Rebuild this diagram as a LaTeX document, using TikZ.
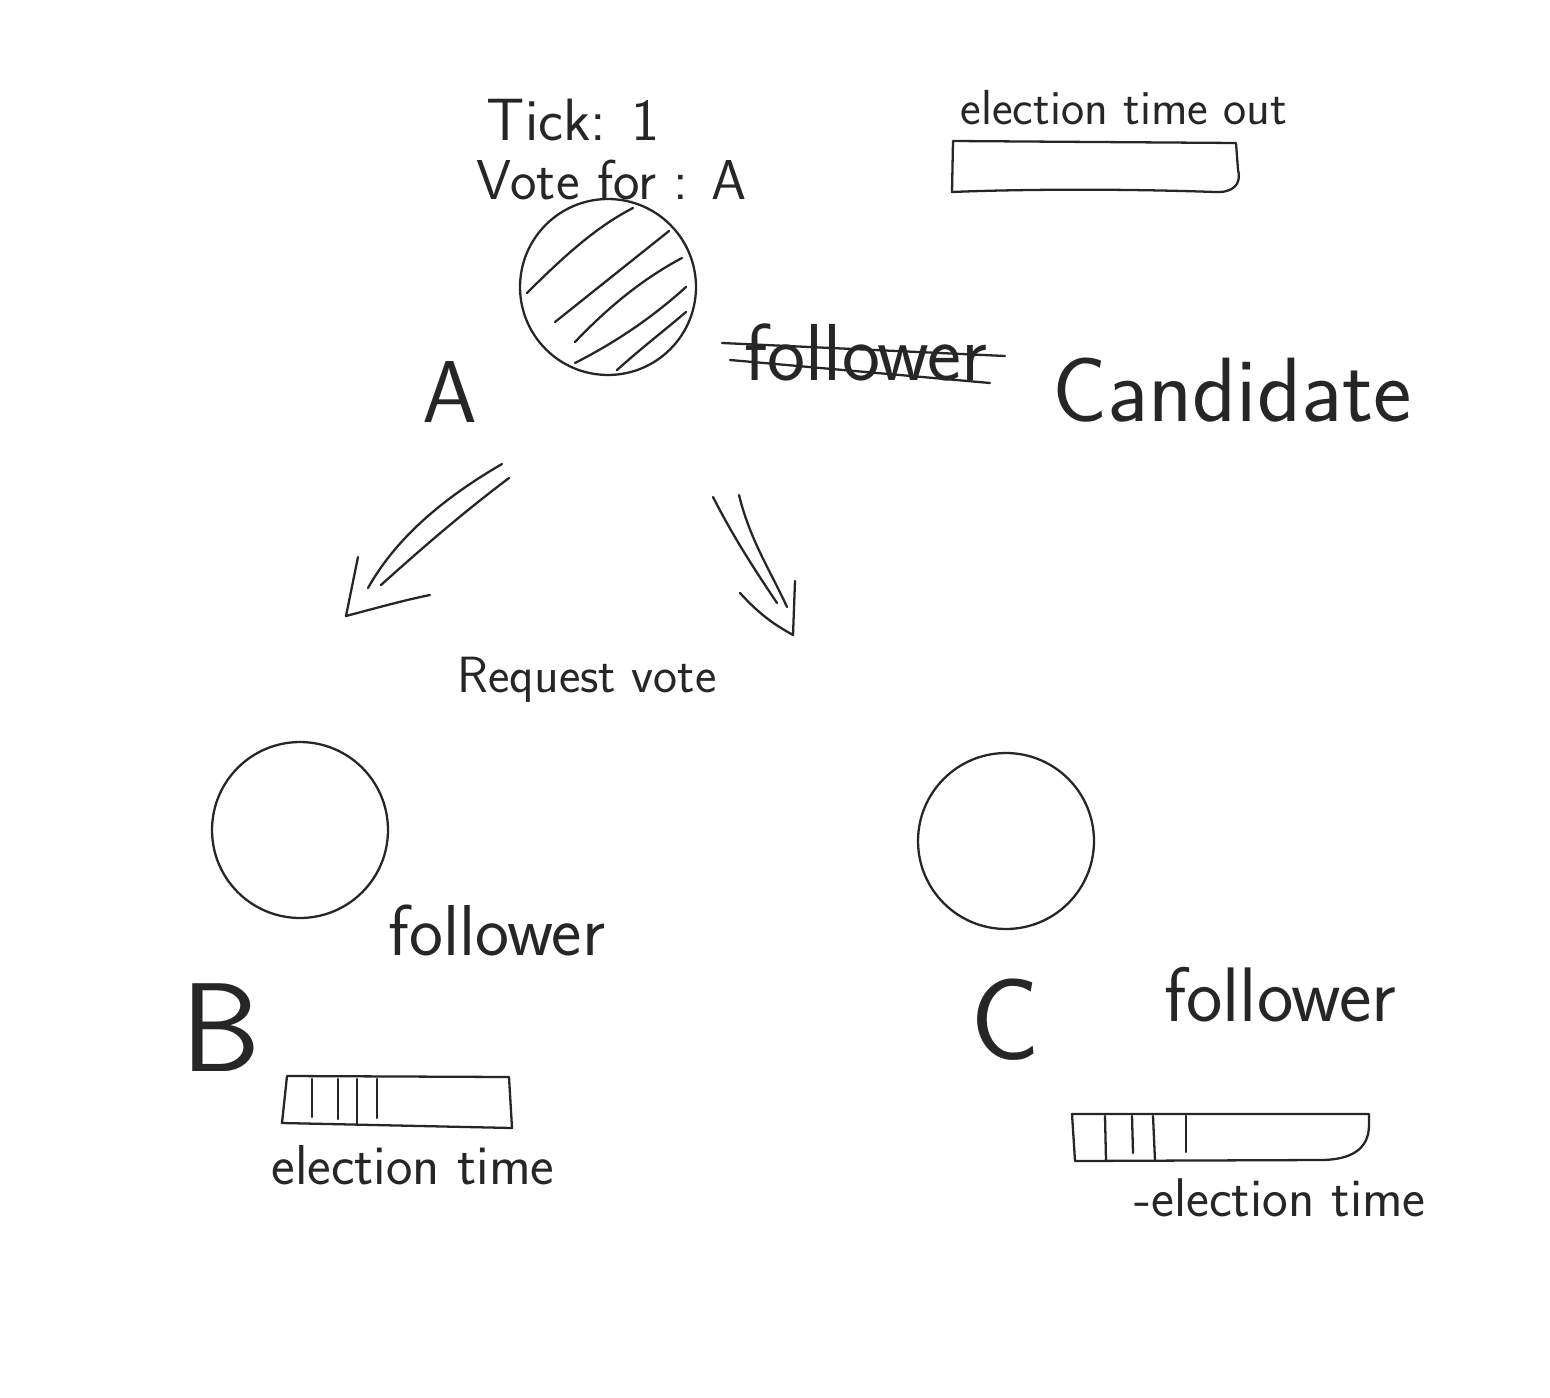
\documentclass[tikz,border=0pt]{standalone}
\usepackage{fontspec}
\begin{document}
\begin{tikzpicture}[x=0.02cm,y=-0.02cm,
  ink/.style={line width=1.3pt,line cap=round,line join=round,black!85},
  ring/.style={circle,draw,ink,minimum size=3.52cm,inner sep=0pt},
  hand/.style={font=\sffamily\fontsize{#1}{#1}\selectfont,inner sep=0pt,text=black!85},
  bar/.style={ink}]
\useasboundingbox[fill=white] (0,0) rectangle (1550,1398);

% nodes (servers)
\node[ring] (A) at (608,287) {};
\node[ring] (B) at (300,830) {};
\node[ring] (C) at (1006,841) {};

% hatching of A (candidate)
\draw[ink] (527,293) .. controls (570,250) and (600,225) .. (633,208);
\draw[ink] (555,322) -- (669,231);
\draw[ink] (575,342) .. controls (615,300) and (650,275) .. (682,258);
\draw[ink] (575,363) .. controls (620,340) and (655,315) .. (686,287);
\draw[ink] (617,370) .. controls (645,345) and (665,330) .. (686,312);

% labels of A
\node[hand=34pt] (tick) at (573,120) {Tick: 1};
\node[hand=32pt] (vote) at (612,180) {Vote for : A};
\node[hand=50pt] (la) at (450,392) {A};
\node[hand=46pt] (oldrole) at (866,352) {follower};
\draw[ink] (722,343) -- (1005,356);
\draw[ink] (730,360) -- (990,383);
\node[hand=52pt] (cand) at (1232,390) {Candidate};

% election timeout legend
\node[hand=28pt] (etoLabel) at (1124,108) {election time out};
\draw[bar] (953,141) -- (1236,143) -- (1238,170) .. controls (1242,185) and (1232,193) .. (1215,192)
  .. controls (1100,188) and (1000,190) .. (952,192) -- cycle;

% arrow A -> B
\coordinate (a1s) at (502,464);
\coordinate (a1e) at (368,588);
\coordinate (a1t) at (346,616);
\draw[ink] (a1s) .. controls (440,500) and (395,540) .. (a1e);
\draw[ink] (509,478) .. controls (460,515) and (420,550) .. (381,585);
\draw[ink] (358,557) -- (a1t) .. controls (380,607) and (405,600) .. (430,595);

% arrow A -> C
\coordinate (a2s) at (713,497);
\coordinate (a2t) at (793,635);
\draw[ink] (a2s) .. controls (735,540) and (755,570) .. (777,603);
\draw[ink] (739,495) .. controls (750,540) and (770,570) .. (787,607);
\draw[ink] (740,593) .. controls (760,615) and (775,625) .. (a2t) -- (795,581);

\node[hand=29pt] (req) at (587,680) {Request vote};

% B
\node[hand=41pt] (fb) at (497,930) {follower};
\node[hand=72pt] (lb) at (221,1028) {B};
\draw[bar] (287,1076) -- (509,1077) -- (512,1128) -- (282,1123) -- cycle;
\foreach \x/\y in {312/1117,338/1119,357/1125,377/1118}
  \draw[ink] (\x,1079) -- (\x,\y);
\node[hand=32pt] (eb) at (413,1165) {election time};

% C
\node[hand=66pt] (lc) at (1005,1020) {C};
\node[hand=44pt] (fc) at (1280,995) {follower};
\draw[bar] (1072,1114) -- (1369,1114) -- (1369,1125)
  .. controls (1369,1150) and (1350,1160) .. (1320,1160) -- (1075,1161) -- cycle;
\draw[ink] (1105,1116) -- (1106,1161);
\draw[ink] (1132,1116) -- (1133,1153);
\draw[ink] (1153,1116) -- (1155,1161);
\draw[ink] (1186,1116) -- (1186,1152);
\node[hand=31pt] (ec) at (1280,1198) {-election time};
\end{tikzpicture}
\end{document}
